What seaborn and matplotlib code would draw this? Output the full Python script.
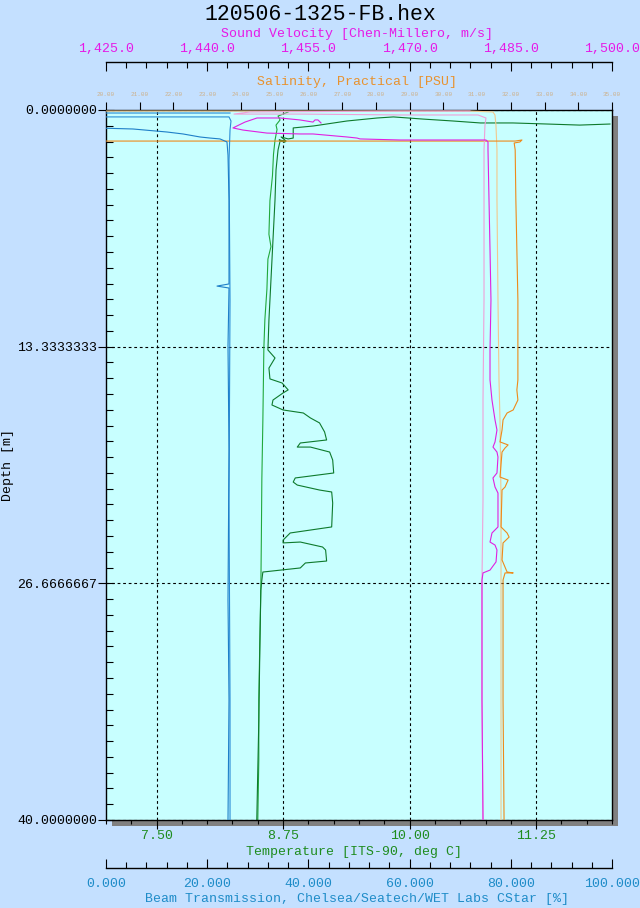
import matplotlib
matplotlib.use("Agg")
import matplotlib.pyplot as plt
from matplotlib.patches import Rectangle
from matplotlib.ticker import FixedLocator, MultipleLocator, FuncFormatter, FormatStrFormatter
import seaborn as sns

# -------------------------
# Data (depth in m)
# -------------------------
# temperature, downcast (dark green)
temp_dn_depth = [0.79, 0.85, 0.79, 0.73, 0.73, 0.62, 0.51, 0.39, 0.45, 0.62,
                 0.90, 1.01, 1.58, 1.63, 1.52, 1.75, 1.69, 1.80, 1.75, 2.25,
                 3.38, 5.07, 7.32, 9.58, 11.83, 13.52, 13.97, 14.54, 15.15, 15.38,
                 15.77, 15.94, 16.34, 16.62, 16.90, 17.07, 17.35, 17.63, 18.14, 18.59,
                 18.76, 18.99, 18.99, 19.27, 19.72, 20.45, 20.62, 20.73, 20.96, 21.13,
                 21.41, 21.52, 22.14, 23.49, 23.83, 24.23, 24.39, 24.34, 24.62, 24.79,
                 25.41, 25.52, 25.80, 26.03, 26.48, 27.04, 30.42, 34.37, 40.0]
temp_dn = [11.98, 11.68, 11.36, 11.02, 10.70, 10.43, 10.13, 9.84, 9.68, 9.38,
           9.05, 8.85, 8.85, 8.80, 8.73, 8.78, 8.71, 8.77, 8.72, 8.70,
           8.68, 8.67, 8.65, 8.63, 8.61, 8.60, 8.67, 8.61, 8.62, 8.74,
           8.80, 8.75, 8.65, 8.64, 8.75, 8.95, 9.02, 9.11, 9.16, 9.18,
           8.92, 8.89, 9.02, 9.21, 9.24, 9.25, 9.02, 8.87, 8.85, 8.89,
           9.11, 9.23, 9.24, 9.23, 8.82, 8.75, 8.75, 8.92, 9.14, 9.17,
           9.18, 8.97, 8.92, 8.55, 8.54, 8.53, 8.52, 8.51, 8.49]

# temperature, upcast (bright green)
temp_up_depth = [40.0, 36.6, 33.2, 29.9, 27.0, 24.2, 20.8, 17.5, 13.4, 11.8,
                 10.1, 8.4, 7.7, 7.0, 5.1, 3.7, 2.5, 1.7, 1.1, 0.85,
                 0.56, 0.34, 0.23, 0.11]
temp_up = [8.50, 8.51, 8.51, 8.52, 8.53, 8.535, 8.54, 8.55, 8.56, 8.57,
           8.59, 8.60, 8.63, 8.61, 8.62, 8.645, 8.655, 8.67, 8.69, 8.68,
           8.72, 8.70, 8.75, 8.80]

# sound velocity, downcast (magenta)
sv_dn_depth = [0.73, 0.56, 0.56, 0.68, 0.56, 0.45, 0.45, 0.68, 1.01, 1.13,
               1.30, 1.35, 1.35, 1.52, 1.58, 1.63, 1.69, 1.69, 1.69, 1.80,
               2.25, 5.07, 7.89, 10.70, 13.52, 15.21, 16.34, 17.46, 18.03, 18.70,
               18.99, 19.27, 19.55, 20.45, 20.73, 21.24, 21.58, 23.49, 23.83, 24.34,
               24.51, 24.79, 25.46, 25.92, 26.08, 26.48, 27.61, 33.24, 40.0]
sv_dn = [1456.87, 1456.42, 1455.98, 1455.68, 1453.75, 1450.79, 1447.38, 1445.60, 1443.82, 1445.31,
         1448.86, 1453.75, 1455.68, 1460.72, 1462.20, 1462.65, 1468.58, 1474.51, 1481.32, 1481.62,
         1481.62, 1481.77, 1481.92, 1482.06, 1481.92, 1481.92, 1482.21, 1482.66, 1482.95, 1482.66,
         1482.36, 1482.95, 1483.10, 1482.95, 1482.36, 1482.66, 1483.10, 1483.10, 1482.21, 1481.92,
         1482.66, 1482.95, 1482.81, 1481.92, 1480.88, 1480.73, 1480.73, 1480.73, 1480.88]

# sound velocity, upcast (light pink)
sv_up_depth = [40.0, 33.24, 27.61, 26.48, 21.97, 16.34, 10.70, 5.07, 2.25, 0.85,
               0.45, 0.28, 0.28, 0.23, 0.23, 0.11, 0.06, 0.06]
sv_up = [1480.88, 1480.73, 1480.73, 1480.73, 1480.88, 1480.88, 1481.03, 1481.03, 1481.03, 1481.17,
         1481.32, 1480.14, 1468.58, 1453.75, 1443.97, 1446.34, 1468.58, 1478.95]

# salinity, downcast (orange)
sal_dn_depth = [1.75, 1.75, 1.69, 1.80, 1.86, 2.25, 5.07, 7.89, 10.70, 13.52,
                15.21, 15.77, 16.34, 16.90, 17.07, 17.46, 18.03, 18.70, 18.87, 19.04,
                19.27, 20.68, 20.85, 21.24, 21.41, 23.49, 23.83, 24.06, 24.39, 25.35,
                26.03, 26.08, 26.08, 26.48, 27.61, 33.24, 40.0]
sal_dn = [19.5, 32.13, 32.33, 32.27, 32.10, 32.13, 32.15, 32.18, 32.21, 32.21,
          32.21, 32.18, 32.21, 32.07, 31.89, 31.77, 31.74, 31.68, 31.92, 31.83,
          31.74, 31.68, 31.92, 31.83, 31.74, 31.71, 31.89, 31.95, 31.77, 31.74,
          31.89, 32.07, 31.83, 31.77, 31.77, 31.77, 31.80]

# salinity, upcast (light orange)
sal_up_depth = [40.0, 33.24, 27.61, 21.97, 17.46, 15.21, 10.70, 5.07, 2.25, 0.85,
                0.28, 0.11, 0.06, 0.06, 0.06]
sal_up = [31.71, 31.71, 31.71, 31.71, 31.68, 31.65, 31.62, 31.59, 31.59, 31.56,
          31.53, 31.47, 30.79, 25.75, 19.5]

# beam transmission, downcast and upcast (blue)
bt_dn_depth = [1.01, 1.07, 1.24, 1.35, 1.52, 1.58, 1.63, 1.80, 2.54, 5.07,
               9.80, 9.92, 10.03, 13.30, 19.15, 27.61, 33.24, 40.0]
bt_dn = [-2.2, 5.34, 12.06, 15.22, 18.58, 20.55, 22.53, 23.91, 24.11, 24.31,
         24.31, 21.94, 24.31, 24.11, 24.31, 24.11, 24.31, 24.11]
bt_up_depth = [40.0, 33.24, 21.97, 10.70, 2.82, 1.13, 0.62, 0.39, 0.39, 0.17, 0.17]
bt_up = [24.51, 24.51, 24.31, 24.51, 24.31, 24.51, 24.70, 24.31, -2.2, -2.2, 24.51]

# -------------------------
# Layout helpers (pixels -> figure fraction)
# -------------------------
W, H = 640, 908
L, R, T, B = 106, 612, 110, 820


def fx(px):
    return px / W


def fy(py):
    return 1 - py / H


def pt(px):
    return px * 72 / 100


BG = "#C4E0FF"
PLOT_BG = "#C8FFFF"
GREEN = "#1E8C1E"
MAG = "#E619E6"
SAL = "#E8922E"
SAL_TICK = "#CDB08A"
BLUE = "#1E8CC8"

plt.rcParams['font.family'] = ['Liberation Mono', 'DejaVu Sans Mono']

fig = plt.figure(figsize=(6.4, 9.08), dpi=100, facecolor=BG)
ax = fig.add_axes([fx(L), fy(B), (R - L) / W, (B - T) / H], facecolor=PLOT_BG)
# drop shadow behind the plot box
fig.add_artist(Rectangle((fx(L + 6), fy(B + 6)), (R - L) / W, (B - T) / H,
                         transform=fig.transFigure, facecolor="#808080",
                         edgecolor="none", zorder=-1))

ax_s = ax.twiny()   # salinity (top)
ax_v = ax.twiny()   # sound velocity (top, offset)
ax_b = ax.twiny()   # beam transmission (bottom, offset)

lw = 0.8
sns.lineplot(x=temp_up, y=temp_up_depth, sort=False, estimator=None, color="#22A83C", linewidth=lw, ax=ax)
sns.lineplot(x=temp_dn, y=temp_dn_depth, sort=False, estimator=None, color="#0E7A2C", linewidth=lw, ax=ax)
sns.lineplot(x=bt_up, y=bt_up_depth, sort=False, estimator=None, color="#2A8CD6", linewidth=lw, ax=ax_b)
sns.lineplot(x=bt_dn, y=bt_dn_depth, sort=False, estimator=None, color="#1E7FC8", linewidth=lw, ax=ax_b)
sns.lineplot(x=sv_up, y=sv_up_depth, sort=False, estimator=None, color="#EFA0D8", linewidth=lw, ax=ax_v)
sns.lineplot(x=sv_dn, y=sv_dn_depth, sort=False, estimator=None, color="#E020E0", linewidth=lw, ax=ax_v)
sns.lineplot(x=sal_up, y=sal_up_depth, sort=False, estimator=None, color="#F2C88C", linewidth=lw, ax=ax_s)
sns.lineplot(x=sal_dn, y=sal_dn_depth, sort=False, estimator=None, color="#EE8A1A", linewidth=lw, ax=ax_s)

ax.set_xlim(7, 12)
ax.set_ylim(40, 0)
ax_s.set_xlim(20, 35)
ax_v.set_xlim(1425, 1500)
ax_b.set_xlim(0, 100)
for a in (ax, ax_s, ax_v, ax_b):
    a.set_xlabel("")
    a.set_ylabel("")

# main box
for s in ax.spines.values():
    s.set_color("k")
    s.set_linewidth(1.0)
ax.grid(True, which="major", color="k", linestyle=(0, (2.5, 2.5)), linewidth=0.8)

# temperature axis (bottom of box)
ax.xaxis.set_major_locator(FixedLocator([7.5, 8.75, 10.0, 11.25]))
ax.xaxis.set_minor_locator(MultipleLocator(0.25))
ax.xaxis.set_major_formatter(FormatStrFormatter('%.2f'))
ax.tick_params(axis='x', which='major', direction='out', length=pt(9), width=0.8,
               color='k', labelcolor=GREEN, labelsize=9.5, pad=1)
ax.tick_params(axis='x', which='minor', direction='out', length=pt(4), width=0.8, color='k')

# depth axis
ax.yaxis.set_major_locator(FixedLocator([0, 40 / 3, 80 / 3, 40]))
ax.yaxis.set_minor_locator(MultipleLocator(40 / 45))
ax.yaxis.set_major_formatter(FormatStrFormatter('%.7f'))
ax.tick_params(axis='y', which='major', direction='inout', length=pt(16), width=0.8,
               color='k', labelcolor='k', labelsize=9.5, pad=0.5)
ax.tick_params(axis='y', which='minor', direction='in', length=pt(7), width=0.8, color='k')

# salinity axis (top edge of box)
for s in ax_s.spines.values():
    s.set_visible(False)
ax_s.xaxis.set_major_locator(MultipleLocator(1))
ax_s.xaxis.set_major_formatter(FormatStrFormatter('%.2f'))
ax_s.tick_params(axis='x', which='major', direction='out', length=pt(8), width=0.8,
                 color='k', labelcolor=SAL_TICK, labelsize=4.3, pad=pt(5))

# sound velocity axis (offset above)
for s in ax_v.spines.values():
    s.set_visible(False)
ax_v.spines['top'].set_visible(True)
ax_v.spines['top'].set_position(('outward', pt(48)))
ax_v.spines['top'].set_linewidth(1.0)
ax_v.xaxis.set_major_locator(MultipleLocator(15))
ax_v.xaxis.set_minor_locator(MultipleLocator(3))
ax_v.xaxis.set_major_formatter(FuncFormatter(lambda v, p: f"{v:,.1f}"))
ax_v.tick_params(axis='x', which='major', direction='in', length=pt(9), width=0.8,
                 color='k', labelcolor=MAG, labelsize=9.5, pad=pt(7))
ax_v.tick_params(axis='x', which='minor', direction='in', length=pt(6), width=0.8, color='k')

# beam transmission axis (offset below)
for s in ax_b.spines.values():
    s.set_visible(False)
ax_b.xaxis.set_ticks_position('bottom')
ax_b.xaxis.set_label_position('bottom')
ax_b.spines['bottom'].set_visible(True)
ax_b.spines['bottom'].set_position(('outward', pt(48)))
ax_b.spines['bottom'].set_linewidth(1.0)
ax_b.xaxis.set_major_locator(MultipleLocator(20))
ax_b.xaxis.set_minor_locator(MultipleLocator(4))
ax_b.xaxis.set_major_formatter(FormatStrFormatter('%.3f'))
ax_b.tick_params(axis='x', which='major', direction='in', length=pt(9), width=0.8,
                 color='k', labelcolor=BLUE, labelsize=9.5, pad=pt(10))
ax_b.tick_params(axis='x', which='minor', direction='in', length=pt(6), width=0.8, color='k')

# titles
fig.text(fx(320), fy(14), "120506-1325-FB.hex", ha='center', va='center', fontsize=15.5, color='k')
fig.text(fx(357), fy(34), "Sound Velocity [Chen-Millero, m/s]", ha='center', va='center',
         fontsize=9.5, color=MAG)
fig.text(fx(357), fy(82), "Salinity, Practical [PSU]", ha='center', va='center',
         fontsize=9.5, color=SAL)
fig.text(fx(354), fy(852), "Temperature [ITS-90, deg C]", ha='center', va='center',
         fontsize=9.5, color=GREEN)
fig.text(fx(357), fy(899), "Beam Transmission, Chelsea/Seatech/WET Labs CStar [%]",
         ha='center', va='center', fontsize=9.5, color=BLUE)
fig.text(fx(8), fy(465), "Depth [m]", rotation=90, ha='center', va='center', fontsize=9.5, color='k')

fig.savefig("out.png", dpi=100)
